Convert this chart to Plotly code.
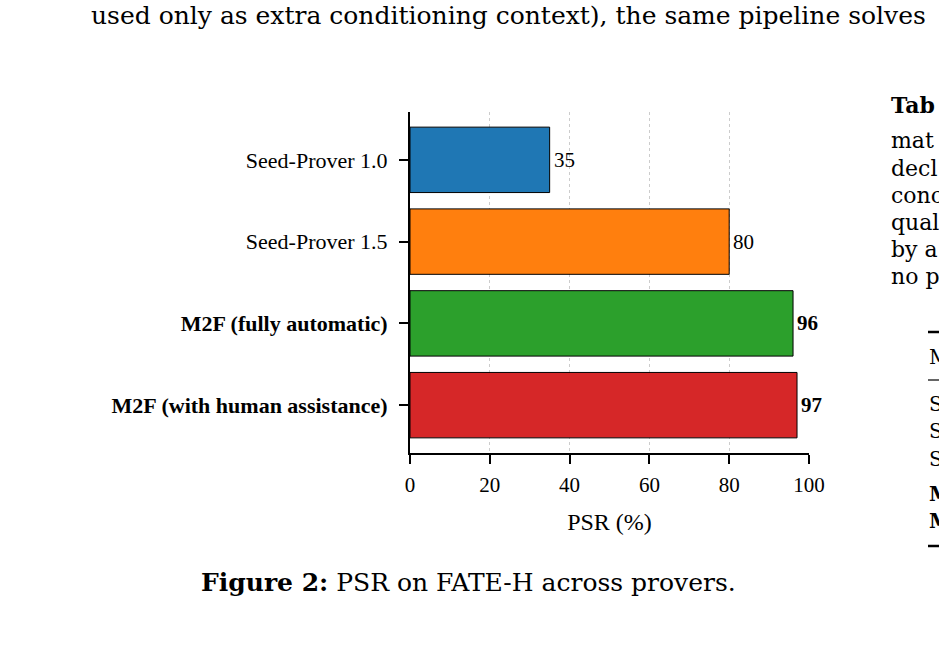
import plotly.graph_objects as go

# ---- data ----
provers = ["Seed-Prover 1.0", "Seed-Prover 1.5", "M2F (fully automatic)", "M2F (with human assistance)"]
psr = [35, 80, 96, 97]
bold_rows = [False, False, True, True]
bar_colors = ["#1f77b4", "#ff7f0e", "#2ca02c", "#d62728"]
x_ticks = [0, 20, 40, 60, 80, 100]

W, H = 939, 646
L, R, T, B = 410, 130, 112, 193
PW, PH = W - L - R, H - T - B


def px(x):
    return (x - L) / PW


def py(y):
    return (H - B - y) / PH


SERIF = "Liberation Serif, Times New Roman, serif"
CM = "DejaVu Serif, serif"


def fmt(label, b):
    return f"<b>{label}</b>" if b else label


fig = go.Figure()
fig.add_trace(go.Bar(
    x=psr, y=provers, orientation="h", width=0.8,
    marker=dict(color=bar_colors, line=dict(color="black", width=1)),
    hoverinfo="skip", showlegend=False,
))

annotations = []
for name, v, b in zip(provers, psr, bold_rows):
    annotations.append(dict(
        x=v, y=name, xref="x", yref="y", text=fmt(str(v), b), showarrow=False,
        xanchor="left", yanchor="middle", xshift=2,
        font=dict(family=SERIF, size=21, color="black"),
    ))

# surrounding page text
annotations.append(dict(
    x=px(89), y=py(15), xref="paper", yref="paper", xanchor="left", yanchor="middle",
    text="used only as extra conditioning context), the same pipeline solves",
    showarrow=False, font=dict(family=CM, size=25, color="black"),
))
annotations.append(dict(
    x=px(468), y=py(582), xref="paper", yref="paper", xanchor="center", yanchor="middle",
    text="<b>Figure 2:</b> PSR on FATE-H across provers.",
    showarrow=False, font=dict(family=CM, size=25, color="black"),
))
right_lines = [("<b>Tab</b>", 105), ("mat", 140), ("decl", 168), ("conc", 195),
               ("qual", 222), ("by a", 249), ("no p", 276)]
for t, yy in right_lines:
    annotations.append(dict(
        x=px(889), y=py(yy), xref="paper", yref="paper", xanchor="left", yanchor="middle",
        text=t, showarrow=False, font=dict(family=CM, size=22, color="black"),
    ))
table_cells = [("M", 357), ("S", 404), ("S", 431), ("S", 459),
               ("<b>M</b>", 494), ("<b>M</b>", 521)]
for t, yy in table_cells:
    annotations.append(dict(
        x=px(927), y=py(yy), xref="paper", yref="paper", xanchor="left", yanchor="middle",
        text=t, showarrow=False, font=dict(family=CM, size=20, color="black"),
    ))

shapes = []
for yy, wdt in [(332, 2.5), (380, 1.2), (546, 2.5)]:
    shapes.append(dict(type="line", xref="paper", yref="paper",
                       x0=px(928), x1=px(960), y0=py(yy), y1=py(yy),
                       line=dict(color="black", width=wdt)))

fig.update_layout(
    width=W, height=H,
    margin=dict(l=L, r=R, t=T, b=B, pad=0),
    paper_bgcolor="white", plot_bgcolor="white",
    bargap=0.2,
    annotations=annotations,
    shapes=shapes,
    xaxis=dict(
        range=[0, 100], tickvals=x_ticks, ticktext=[str(v) for v in x_ticks],
        showline=True, linecolor="black", linewidth=2, mirror=False,
        ticks="outside", ticklen=9, tickwidth=2, tickcolor="black",
        ticklabelstandoff=3,
        showgrid=True, gridcolor="#cccccc", griddash="dot", gridwidth=1,
        zeroline=False,
        tickfont=dict(family=SERIF, size=21, color="black"),
        title=dict(text="PSR (%)", font=dict(family=SERIF, size=24, color="black"), standoff=17),
        fixedrange=True,
    ),
    yaxis=dict(
        type="category", categoryorder="array", categoryarray=provers,
        range=[3.585, -0.585],
        tickvals=provers, ticktext=[fmt(p, b) for p, b in zip(provers, bold_rows)],
        showline=True, linecolor="black", linewidth=2,
        ticks="outside", ticklen=9, tickwidth=2, tickcolor="black",
        ticklabelstandoff=7,
        showgrid=False, zeroline=False,
        tickfont=dict(family=SERIF, size=22, color="black"),
        fixedrange=True,
    ),
)

fig.write_html("out.html", config={"displayModeBar": False})
